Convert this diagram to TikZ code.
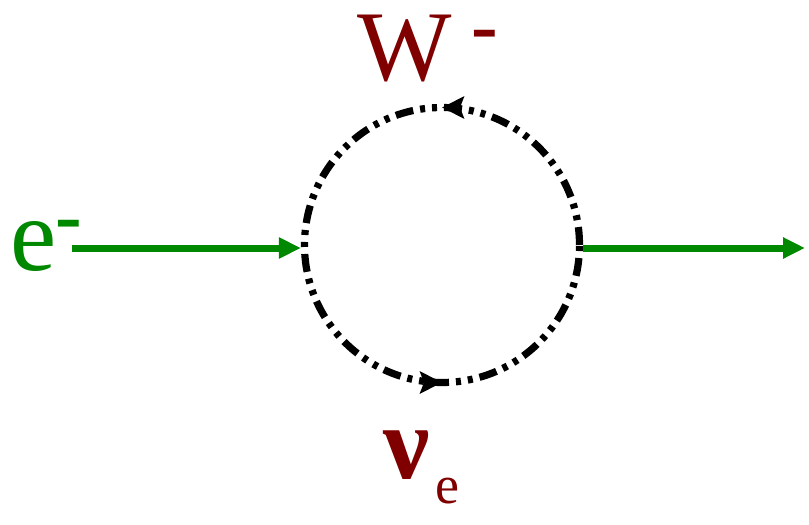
\documentclass[tikz,border=0pt]{standalone}
\usepackage{fontspec}
\setmainfont{Liberation Serif}
\newfontfamily\feynfont{Liberation Serif}
\usetikzlibrary{arrows.meta, decorations.markings}
\definecolor{LeptonGreen}{RGB}{0,136,0}
\definecolor{BosonRed}{RGB}{128,0,0}
\newcommand{\supminus}{\fontsize{40}{44}\selectfont\bfseries -}

\begin{document}
\begin{tikzpicture}[x=0.5pt, y=-0.5pt,
    fermion/.style={draw=LeptonGreen, line width=3.5pt,
      -{Triangle[length=11pt, width=10pt]}},
    loopline/.style={circle, draw, line width=3.6pt, minimum size=137.5pt,
      inner sep=0pt,
      dash pattern=on 9pt off 3.5pt on 2.5pt off 3.5pt on 2.5pt off 3.5pt,
      postaction={decorate},
      decoration={markings,
        mark=at position 0.25 with {\arrow{Stealth[length=11pt, width=11pt, inset=2pt]}},
        mark=at position 0.75 with {\arrow{Stealth[length=11pt, width=11pt, inset=2pt]}}}},
    particle/.style={anchor=base west, inner sep=0pt}]
  \useasboundingbox (0,0) rectangle (809,525);

  % self-energy loop
  \node[loopline] (loop) at (442,245) {};

  % incoming and outgoing electron
  \coordinate (ein) at (72,248);
  \coordinate (eout) at (805,248);
  \draw[fermion] (ein) -- (ein -| loop.west);
  \draw[fermion] (eout -| loop.east) -- (eout);

  % labels
  \node[particle, text=LeptonGreen, font=\feynfont\fontsize{52}{60}\selectfont]
    (elabel) at (10,270) {e\hspace{-0.5pt}\raisebox{14pt}{\supminus}};
  \node[particle, text=BosonRed, font=\feynfont\fontsize{50}{60}\selectfont]
    (wlabel) at (357,80) {W\hspace{10pt}\raisebox{14pt}{\supminus}};
  \node[particle, text=BosonRed, font=\feynfont\fontsize{52}{60}\selectfont]
    (nulabel) at (383,478) {\textbf{ν}\hspace{3pt}\raisebox{-12.5pt}{\fontsize{27}{30}\selectfont e}};
\end{tikzpicture}
\end{document}
